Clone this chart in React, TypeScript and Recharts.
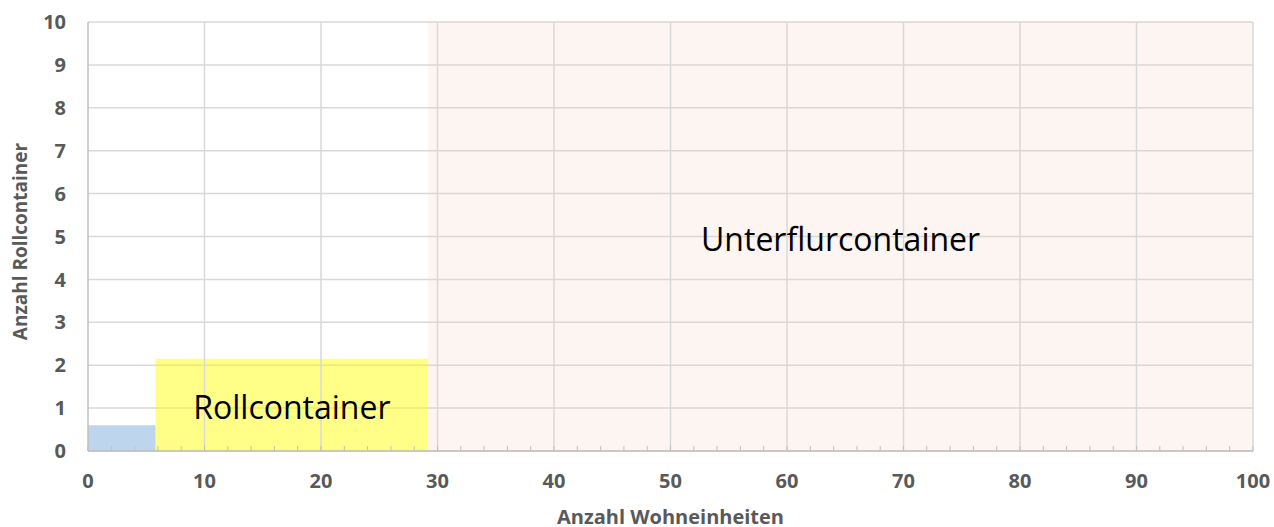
import React from 'react';
import { ComposedChart, XAxis, YAxis, CartesianGrid, ReferenceArea, ReferenceLine, Label } from 'recharts';

// Zones (x range in Wohneinheiten, height in Rollcontainer)
const zoneNames = ['', 'Rollcontainer', 'Unterflurcontainer'];
const zoneStart = [0, 5.8, 29.2];
const zoneEnd = [5.8, 29.2, 100];
const zoneHeight = [0.6, 2.15, 10];

// Tick values
const xTicks = [0, 2, 4, 6, 8, 10, 12, 14, 16, 18, 20, 22, 24, 26, 28, 30, 32, 34, 36, 38, 40, 42, 44, 46, 48, 50, 52, 54, 56, 58, 60, 62, 64, 66, 68, 70, 72, 74, 76, 78, 80, 82, 84, 86, 88, 90, 92, 94, 96, 98, 100];
const xMajor = [0, 10, 20, 30, 40, 50, 60, 70, 80, 90, 100];
const yTicks = [0, 1, 2, 3, 4, 5, 6, 7, 8, 9, 10];

const xTitle = 'Anzahl Wohneinheiten';
const yTitle = 'Anzahl Rollcontainer';

// Styles
const zoneFill = ['#9DC3E6', '#FFFF00', '#F1C6AF'];
const zoneOpacity = [0.68, 0.47, 0.18];
const zoneFontSize = [32, 32, 32];
const FONT = '"Open Sans", sans-serif';

const XTick = (props: any) => {
  const { x, y, payload } = props;
  const v = payload.value;
  return (
    <g>
      <line x1={x} x2={x} y1={y} y2={y - 5} stroke="#BFBFBF" strokeWidth={1} />
      {xMajor.includes(v) && (
        <text x={x} y={y + 30} dy="0.355em" textAnchor="middle" fill="#595959" fontSize={20} fontWeight={700} fontFamily={FONT}>
          {v}
        </text>
      )}
    </g>
  );
};

export default function App() {
  return (
    <div style={{ position: 'absolute', left: 0, top: 0, width: 1274, height: 527, background: '#fff' }}>
      <ComposedChart width={1274} height={527} data={[]} margin={{ top: 22, right: 21, bottom: 0, left: 0 }}>
        <CartesianGrid stroke="#D9D9D9" strokeWidth={1.5} vertical={false} />
        {xMajor.slice(1).map((v) => (
          <ReferenceLine key={'g' + v} x={v} stroke="#D9D9D9" strokeWidth={1.5} ifOverflow="visible" />
        ))}
        <XAxis
          type="number"
          dataKey="x"
          domain={[0, 100]}
          ticks={xTicks}
          interval={0}
          height={76}
          tickSize={0}
          tickMargin={0}
          tickLine={false}
          axisLine={{ stroke: '#BFBFBF', strokeWidth: 1.5 }}
          tick={<XTick />}
          allowDataOverflow
        >
          <Label value={xTitle} position="insideBottom" offset={3} style={{ fill: '#595959', fontSize: 20, fontWeight: 700, fontFamily: FONT }} />
        </XAxis>
        <YAxis
          type="number"
          domain={[0, 10]}
          ticks={yTicks}
          interval={0}
          width={88}
          tickSize={0}
          tickMargin={22}
          tickLine={false}
          axisLine={{ stroke: '#BFBFBF', strokeWidth: 1.5 }}
          tick={{ fill: '#595959', fontSize: 20, fontWeight: 700, fontFamily: FONT }}
          allowDataOverflow
        >
          <Label value={yTitle} angle={-90} position="insideLeft" offset={20} dy={5} style={{ textAnchor: 'middle', fill: '#595959', fontSize: 19, fontWeight: 700, fontFamily: FONT }} />
        </YAxis>
        {zoneNames.map((name, i) => (
          <ReferenceArea
            key={i}
            x1={zoneStart[i]}
            x2={zoneEnd[i]}
            y1={0}
            y2={zoneHeight[i]}
            fill={zoneFill[i]}
            fillOpacity={zoneOpacity[i]}
            stroke="none"
            ifOverflow="visible"
          >
            {name && (
              <Label value={name} position="center" dy={3} style={{ fill: '#000', fontSize: zoneFontSize[i], fontFamily: FONT }} />
            )}
          </ReferenceArea>
        ))}
      </ComposedChart>
    </div>
  );
}
